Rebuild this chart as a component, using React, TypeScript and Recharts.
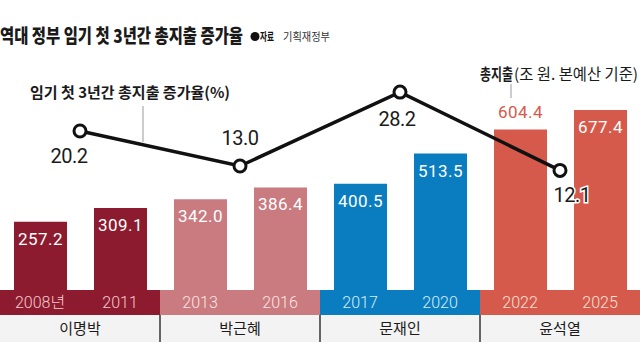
import React from "react";
import {
  ComposedChart,
  Bar,
  Line,
  XAxis,
  YAxis,
  LabelList,
  Cell,
} from "recharts";

const years = ["2008년", "2011", "2013", "2016", "2017", "2020", "2022", "2025"];
const spending = [257.2, 309.1, 342.0, 386.4, 400.5, 513.5, 604.4, 677.4];
const presidents = ["이명박", "박근혜", "문재인", "윤석열"];
const growthRate = [20.2, 13.0, 28.2, 12.1];

const barColors = ["#8c1b2f", "#c97b80", "#0a7dc0", "#d65a4b"];
const yearTextColors = ["#f6c9cc", "#fbe4e4", "#d6edfa", "#fde0d8"];
// offsets of the rate labels from their points
const rateLabelOffset = [
  [-11, 25],
  [0, -28],
  [-3, 27],
  [12, 25],
];

const barData = years.map((y, i) => ({ year: y, amount: spending[i] }));
const lineData = presidents.map((p, i) => ({ name: p, pos: i * 2 + 1, rate: growthRate[i] }));

const W = 640;
const H = 355;
const KR = "'Noto Sans CJK KR', sans-serif";

function YearTick(props: any) {
  const { x, y, payload } = props;
  const i = payload.index;
  const g = Math.floor(i / 2);
  const half = 40;
  return (
    <g>
      <rect x={x - half} y={y} width={half * 2 + 0.5} height={25} fill={barColors[g]} />
      <text
        x={x}
        y={y + 18}
        textAnchor="middle"
        fontFamily="Roboto, 'Noto Sans CJK KR', sans-serif"
        fontWeight={300}
        fontSize={16}
        fill={yearTextColors[g]}
      >
        {payload.value}
      </text>
      {i % 2 === 0 && (
        <g>
          <rect x={x - half} y={y + 25} width={half * 4} height={27} fill="#f3f3f3" />
          {i > 0 && <line x1={x - half} x2={x - half} y1={y + 25} y2={y + 52} stroke="#333" strokeWidth={1.5} />}
          <text x={x + half} y={y + 44} textAnchor="middle" fontFamily={KR} fontSize={15} fill="#1a1a1a">
            {presidents[g]}
          </text>
        </g>
      )}
    </g>
  );
}

function BarLabel(props: any) {
  const { x, y, width, value, index } = props;
  const above = index === 6;
  return (
    <text
      x={x + width / 2}
      y={above ? y - 11 : y + 23}
      textAnchor="middle"
      fontFamily="Roboto, sans-serif"
      fontSize={17}
      letterSpacing={0.5}
      fill={above ? "#d65a4b" : "#ffffff"}
    >
      {value.toFixed(1)}
    </text>
  );
}

function RateLabel(props: any) {
  const { x, y, value, index } = props;
  const [dx, dy] = rateLabelOffset[index];
  return (
    <text
      x={x + dx}
      y={y + dy + 7}
      textAnchor="middle"
      fontFamily="Roboto, sans-serif"
      fontSize={20}
      letterSpacing={-0.5}
      fill="#1a1a1a"
      stroke={index === 3 ? "#ffffff" : "none"}
      strokeWidth={index === 3 ? 3 : 0}
      paintOrder="stroke"
    >
      {value.toFixed(1)}
    </text>
  );
}

export default function App() {
  return (
    <div style={{ position: "absolute", left: 0, top: 0, width: W, height: H, background: "#fff" }}>
      <ComposedChart
        width={W}
        height={H}
        data={barData}
        margin={{ top: 60, right: 0, bottom: 13, left: 0 }}
      >
        <XAxis
          xAxisId="bar"
          dataKey="year"
          height={52}
          interval={0}
          axisLine={false}
          tickLine={false}
          tickSize={0}
          tickMargin={0}
          tick={<YearTick />}
        />
        <XAxis xAxisId="grp" type="number" dataKey="pos" domain={[0, 8]} hide allowDataOverflow />
        <YAxis yAxisId="amt" domain={[0, 866]} hide />
        <YAxis yAxisId="rate" orientation="right" domain={[-12.5, 34.8]} hide allowDataOverflow />
        <Bar xAxisId="bar" yAxisId="amt" dataKey="amount" barSize={53} isAnimationActive={false}>
          {barData.map((d, i) => (
            <Cell key={d.year} fill={barColors[Math.floor(i / 2)]} />
          ))}
          <LabelList dataKey="amount" content={<BarLabel />} />
        </Bar>
        <Line
          xAxisId="grp"
          yAxisId="rate"
          data={lineData}
          dataKey="rate"
          type="linear"
          stroke="#111"
          strokeWidth={3.5}
          dot={{ r: 6, fill: "#fff", stroke: "#111", strokeWidth: 3 }}
          isAnimationActive={false}
        >
          <LabelList dataKey="rate" content={<RateLabel />} />
        </Line>
      </ComposedChart>
      <svg width={W} height={H} style={{ position: "absolute", left: 0, top: 0, pointerEvents: "none" }}>
        <text
          x={0}
          y={43}
          fontFamily={KR}
          fontWeight={800}
          fontSize={19}
          textLength={243}
          lengthAdjust="spacingAndGlyphs"
          fill="#1a1a1a"
        >
          역대 정부 임기 첫 3년간 총지출 증가율
        </text>
        <circle cx={255} cy={36.5} r={4.5} fill="#111" />
        <text x={260} y={41} fontFamily={KR} fontWeight={700} fontSize={11.5} textLength={14} lengthAdjust="spacingAndGlyphs" fill="#111">
          자료
        </text>
        <text x={283} y={41} fontFamily={KR} fontSize={11.5} textLength={47} lengthAdjust="spacingAndGlyphs" fill="#333">
          기획재정부
        </text>
        <text
          x={30}
          y={98}
          fontFamily={KR}
          fontWeight={700}
          fontSize={15}
          textLength={200}
          lengthAdjust="spacingAndGlyphs"
          fill="#1a1a1a"
        >
          임기 첫 3년간 총지출 증가율(%)
        </text>
        <line x1={143} x2={143} y1={106} y2={142} stroke="#999" strokeWidth={1} />
        <text x={480} y={80} fontFamily={KR} fontWeight={700} fontSize={15.5} textLength={33} lengthAdjust="spacingAndGlyphs" fill="#1a1a1a">
          총지출
        </text>
        <text x={514} y={80} fontFamily={KR} fontSize={15.5} textLength={124} lengthAdjust="spacingAndGlyphs" fill="#1a1a1a">
          (조 원. 본예산 기준)
        </text>
        <line x1={511} x2={511} y1={84} y2={98} stroke="#999" strokeWidth={1} />
      </svg>
    </div>
  );
}
